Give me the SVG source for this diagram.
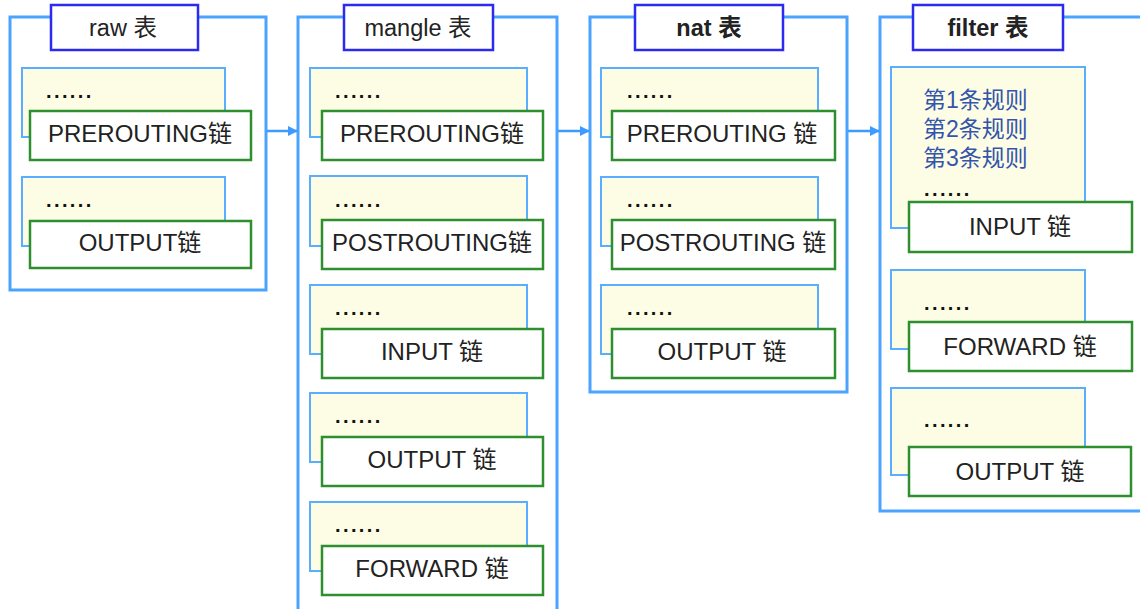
<svg xmlns="http://www.w3.org/2000/svg" width="1140" height="609" viewBox="0 0 1140 609">
<style>
.outer{fill:#fff;stroke:#4aa3ff;stroke-width:3}
.title{fill:#fff;stroke:#2a2af0;stroke-width:2.5}
.rules{fill:#fdfde6;stroke:#5aaeff;stroke-width:2}
.chain{fill:#fff;stroke:#2e8f2e;stroke-width:2.5}
text{font-family:"Liberation Sans","Noto Sans CJK SC",sans-serif;fill:#222}
.t{font-size:23.5px;text-anchor:middle}
.b{font-weight:bold}
.c{font-size:24px;text-anchor:middle}
.d{font-size:20px;font-weight:bold;fill:#111;letter-spacing:2.4px}
.r{font-size:23px;fill:#3355aa}
.conn{stroke:#3d9bff;stroke-width:2.5;fill:none}
</style>
<defs>
<marker id="ah" markerWidth="10" markerHeight="10" refX="9" refY="5" orient="auto" markerUnits="userSpaceOnUse">
<path d="M0,0 L10,5 L0,10 z" fill="#3d9bff"/>
</marker>
</defs>
<rect width="1140" height="609" fill="#fff"/>

<g id="raw">
<rect class="outer" x="10" y="17" width="256" height="273"/>
<rect class="title" x="51" y="5" width="147" height="45"/>
<text class="t" x="123" y="36">raw 表</text>
<g id="raw-prerouting">
<rect class="rules" x="22" y="68" width="203" height="69"/>
<text class="d" x="46" y="98">......</text>
<rect class="chain" x="30" y="111" width="221" height="49"/>
<text class="c" x="140" y="142">PREROUTING链</text>
</g>
<g id="raw-output">
<rect class="rules" x="22" y="177" width="203" height="69"/>
<text class="d" x="46" y="207">......</text>
<rect class="chain" x="30" y="221" width="221" height="47"/>
<text class="c" x="140" y="251">OUTPUT链</text>
</g>
</g>

<g id="mangle">
<rect class="outer" x="298" y="17" width="259" height="600"/>
<rect class="title" x="344" y="5" width="149" height="45"/>
<text class="t" x="418" y="36">mangle 表</text>
<g id="mangle-prerouting">
<rect class="rules" x="310" y="68" width="217" height="69"/>
<text class="d" x="335" y="98">......</text>
<rect class="chain" x="322" y="111" width="221" height="49"/>
<text class="c" x="432" y="142">PREROUTING链</text>
</g>
<g id="mangle-postrouting">
<rect class="rules" x="310" y="176" width="217" height="70"/>
<text class="d" x="335" y="207">......</text>
<rect class="chain" x="322" y="220" width="221" height="49"/>
<text class="c" x="432" y="251">POSTROUTING链</text>
</g>
<g id="mangle-input">
<rect class="rules" x="310" y="285" width="217" height="69"/>
<text class="d" x="335" y="315">......</text>
<rect class="chain" x="322" y="329" width="221" height="49"/>
<text class="c" x="432" y="360">INPUT 链</text>
</g>
<g id="mangle-output">
<rect class="rules" x="310" y="393" width="217" height="69"/>
<text class="d" x="335" y="423">......</text>
<rect class="chain" x="322" y="437" width="221" height="49"/>
<text class="c" x="432" y="468">OUTPUT 链</text>
</g>
<g id="mangle-forward">
<rect class="rules" x="310" y="502" width="217" height="69"/>
<text class="d" x="335" y="532">......</text>
<rect class="chain" x="322" y="546" width="221" height="49"/>
<text class="c" x="432" y="577">FORWARD 链</text>
</g>
</g>

<g id="nat">
<rect class="outer" x="590" y="17" width="257" height="375"/>
<rect class="title" x="635" y="5" width="148" height="45"/>
<text class="t b" x="709" y="36">nat 表</text>
<g id="nat-prerouting">
<rect class="rules" x="601" y="68" width="217" height="69"/>
<text class="d" x="627" y="98">......</text>
<rect class="chain" x="612" y="111" width="223" height="49"/>
<text class="c" x="722" y="142">PREROUTING 链</text>
</g>
<g id="nat-postrouting">
<rect class="rules" x="601" y="177" width="217" height="69"/>
<text class="d" x="627" y="207">......</text>
<rect class="chain" x="612" y="220" width="223" height="49"/>
<text class="c" x="723" y="251">POSTROUTING 链</text>
</g>
<g id="nat-output">
<rect class="rules" x="601" y="285" width="217" height="69"/>
<text class="d" x="627" y="315">......</text>
<rect class="chain" x="612" y="329" width="223" height="49"/>
<text class="c" x="722" y="360">OUTPUT 链</text>
</g>
</g>

<g id="filter">
<rect class="outer" x="880" y="17" width="280" height="494"/>
<rect class="title" x="913" y="5" width="150" height="45"/>
<text class="t b" x="988" y="36">filter 表</text>
<g id="filter-input">
<rect class="rules" x="891" y="67" width="194" height="161"/>
<text class="r" x="923" y="108">第1条规则</text>
<text class="r" x="923" y="137">第2条规则</text>
<text class="r" x="923" y="166">第3条规则</text>
<text class="d" x="924" y="196">......</text>
<rect class="chain" x="909" y="202" width="223" height="50"/>
<text class="c" x="1020" y="235">INPUT 链</text>
</g>
<g id="filter-forward">
<rect class="rules" x="891" y="270" width="194" height="79"/>
<text class="d" x="924" y="310">......</text>
<rect class="chain" x="909" y="322" width="223" height="49"/>
<text class="c" x="1020" y="355">FORWARD 链</text>
</g>
<g id="filter-output">
<rect class="rules" x="891" y="388" width="194" height="87"/>
<text class="d" x="924" y="427">......</text>
<rect class="chain" x="909" y="447" width="222" height="49"/>
<text class="c" x="1020" y="480">OUTPUT 链</text>
</g>
</g>

<g id="connectors">
<line class="conn" x1="267" y1="131" x2="297" y2="131" marker-end="url(#ah)"/>
<line class="conn" x1="558" y1="131" x2="589" y2="131" marker-end="url(#ah)"/>
<line class="conn" x1="848" y1="131" x2="879" y2="131" marker-end="url(#ah)"/>
</g>
</svg>
